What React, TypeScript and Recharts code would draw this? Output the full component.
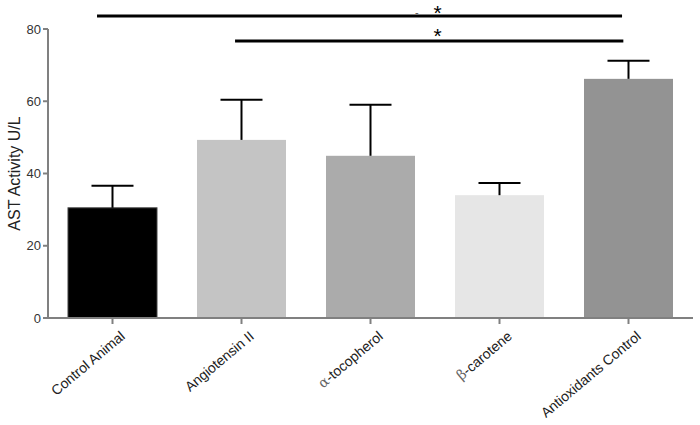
import React from "react";
import { BarChart, Bar, XAxis, YAxis, ReferenceLine, ReferenceDot, Cell } from "recharts";

const categories = ["Control Animal", "Angiotensin II", "α-tocopherol", "β-carotene", "Antioxidants Control"];
const means = [30.5, 49.3, 44.9, 34.0, 66.2];
const sems = [6.1, 11.1, 14.1, 3.4, 5.0];
const yTicks = [0, 20, 40, 60, 80];
const barColors = ["#000000", "#c4c4c4", "#ababab", "#e6e6e6", "#939393"];

const data = categories.map((name, i) => ({ name, idx: i, mean: means[i], sem: sems[i] }));

const FONT = "'Liberation Sans', Arial, sans-serif";
const STAR_SIZE = 21;

// bar plus upper-only error bar
const BarWithError = (props: any) => {
  const { x, y, width, height, fill, payload, value } = props;
  const pxPerUnit = value ? height / value : 0;
  const top = y - payload.sem * pxPerUnit;
  const cx = x + width / 2;
  return (
    <g>
      <rect x={x} y={y} width={width} height={height} fill={fill} stroke={fill === "#000000" ? "#444" : "none"} />
      <line x1={cx} x2={cx} y1={y} y2={top} stroke="#000" strokeWidth={2} />
      <line x1={cx - 21} x2={cx + 21} y1={top} y2={top} stroke="#000" strokeWidth={2} />
    </g>
  );
};

const XTick = (props: any) => {
  const { x, y, payload } = props;
  const v: string = payload.value;
  const greek = v[0] === "α" || v[0] === "β";
  return (
    <g transform={`translate(${x + 7},${y + 4})`}>
      <text transform="rotate(-40)" textAnchor="end" dy="0.71em" fontSize={14} fill="#222" fontFamily={FONT}>
        {greek ? (
          <>
            <tspan fontFamily="'DejaVu Serif', serif" fill="#666">{v[0]}</tspan>
            <tspan>{v.slice(1)}</tspan>
          </>
        ) : (
          v
        )}
      </text>
    </g>
  );
};

// asterisk centred on (cx, cy)
const Star = (props: any) => {
  const { cx, cy } = props;
  return (
    <text x={cx} y={cy + STAR_SIZE * 0.58} textAnchor="middle" fontSize={STAR_SIZE} fontFamily={FONT} fill="#000">
      *
    </text>
  );
};

const Dash = (props: any) => {
  const { cx, cy } = props;
  return (
    <text x={cx} y={cy} textAnchor="middle" fontSize={11} fontFamily={FONT} fill="#555" dy="0.35em">
      -
    </text>
  );
};

export default function App() {
  return (
    <div style={{ position: "absolute", left: 0, top: 0, background: "#fff" }}>
      <BarChart
        width={700}
        height={425}
        data={data}
        margin={{ top: 29, right: 7, bottom: 7, left: 8 }}
        barCategoryGap="15.5%"
        style={{ fontFamily: FONT }}
      >
        <XAxis
          dataKey="name"
          interval={0}
          height={100}
          tick={<XTick />}
          axisLine={{ stroke: "#808080", strokeWidth: 2 }}
          tickLine={{ stroke: "#808080", strokeWidth: 2 }}
          tickSize={6}
        />
        <XAxis xAxisId="n" dataKey="idx" type="number" domain={[-0.5, 4.5]} hide />
        <YAxis
          width={40}
          domain={[0, 80]}
          ticks={yTicks}
          tick={{ fontSize: 13, fill: "#333", fontFamily: FONT }}
          axisLine={{ stroke: "#808080", strokeWidth: 2 }}
          tickLine={{ stroke: "#808080", strokeWidth: 2 }}
          tickSize={5}
          label={{
            value: "AST Activity U/L",
            angle: -90,
            position: "insideLeft",
            offset: 6,
            style: { textAnchor: "middle", fontSize: 16, fill: "#222", fontFamily: FONT },
          }}
        />
        <Bar dataKey="mean" isAnimationActive={false} shape={<BarWithError />}>
          {data.map((d, i) => (
            <Cell key={d.name} fill={barColors[i]} />
          ))}
        </Bar>
        <ReferenceLine
          xAxisId="n"
          segment={[{ x: -0.12, y: 83.6 }, { x: 3.95, y: 83.6 }]}
          stroke="#000"
          strokeWidth={3}
          ifOverflow="visible"
        />
        <ReferenceLine
          xAxisId="n"
          segment={[{ x: 0.95, y: 76.7 }, { x: 3.96, y: 76.7 }]}
          stroke="#000"
          strokeWidth={3}
          ifOverflow="visible"
        />
        <ReferenceDot xAxisId="n" x={2.52} y={85.9} r={0} ifOverflow="visible" shape={<Star />} />
        <ReferenceDot xAxisId="n" x={2.52} y={79.6} r={0} ifOverflow="visible" shape={<Star />} />
        <ReferenceDot xAxisId="n" x={2.36} y={84.6} r={0} ifOverflow="visible" shape={<Dash />} />
      </BarChart>
    </div>
  );
}
